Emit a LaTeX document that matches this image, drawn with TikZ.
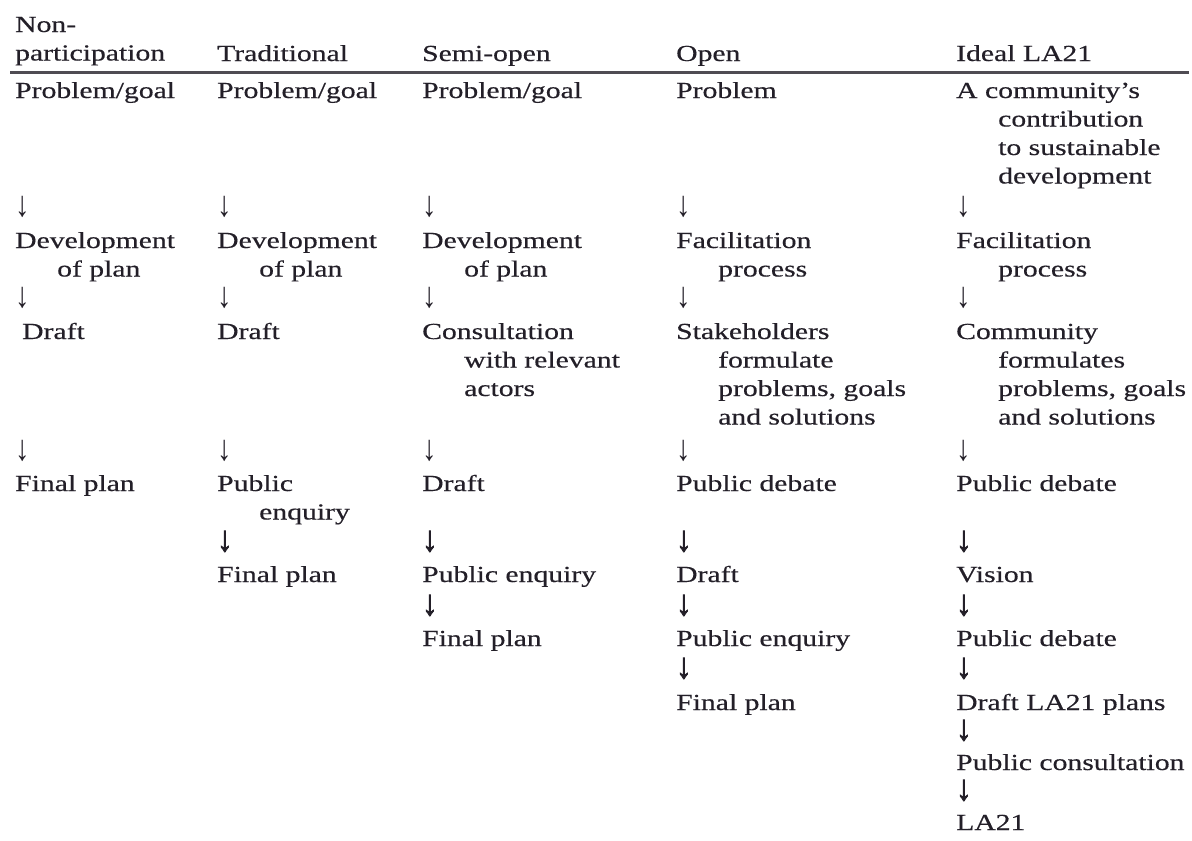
\documentclass[tikz,border=0pt]{standalone}
\usepackage{fontspec}
\setmainfont{Liberation Serif}[FakeStretch=1.29,FakeBold=0.4]
\newfontfamily\arrowfont{Liberation Serif}[FakeStretch=0.8]
\newfontfamily\barrowfont{Liberation Serif}[FakeStretch=0.85,FakeBold=2.2]
\definecolor{ink}{RGB}{35,31,40}
\newcommand{\hang}{\hspace*{42pt}}
\begin{document}
\begin{tikzpicture}[x=1pt,y=-1pt,
  txt/.style={anchor=base west,inner sep=0pt,text=ink,font=\fontsize{23}{28.5}\selectfont},
  arr/.style={anchor=base west,inner sep=0pt,text=ink,font=\arrowfont\fontsize{36}{36}\selectfont},
  barr/.style={arr,font=\barrowfont\fontsize{36}{36}\selectfont}]
\useasboundingbox (0,0) rectangle (1192,841);
\fill[white] (0,0) rectangle (1192,841);
% column x positions
\def\ca{15}\def\cb{217}\def\cc{422}\def\cd{676}\def\ce{956}
% row baselines
\def\ra{98}\def\aa{216}\def\rb{248}\def\ab{307}\def\rc{339}\def\ac{460}
\def\rd{491}\def\ad{551}\def\re{582}\def\ae{615}\def\rf{646}\def\af{678}
\def\rg{710}\def\ag{740}\def\rh{770}\def\ah{800}\def\ri{830}
% header
\node[txt] (h1) at (\ca,32) {\begin{tabular}[t]{@{}l@{}}Non-\\participation\end{tabular}};
\node[txt] (h2) at (\cb,61) {Traditional};
\node[txt] (h3) at (\cc,61) {Semi-open};
\node[txt] (h4) at (\cd,61) {Open};
\node[txt] (h5) at (\ce,61) {Ideal LA21};
\coordinate (rl) at (10,72);
\coordinate (rr) at (1189,72);
\draw[line width=3pt,draw=ink!80] (rl) -- (rr);
% column 1
\node[txt] (a1) at (\ca,\ra) {Problem/goal};
\node[arr] (a1d) at (\ca,\aa) {↓};
\node[txt] (a2) at (\ca,\rb) {\begin{tabular}[t]{@{}l@{}}Development\\\hang of plan\end{tabular}};
\node[arr] (a2d) at (\ca,\ab) {↓};
\node[txt] (a3) at (\ca+7,\rc) {Draft};
\node[arr] (a3d) at (\ca,\ac) {↓};
\node[txt] (a4) at (\ca,\rd) {Final plan};
% column 2
\node[txt] (b1) at (\cb,\ra) {Problem/goal};
\node[arr] (b1d) at (\cb,\aa) {↓};
\node[txt] (b2) at (\cb,\rb) {\begin{tabular}[t]{@{}l@{}}Development\\\hang of plan\end{tabular}};
\node[arr] (b2d) at (\cb,\ab) {↓};
\node[txt] (b3) at (\cb,\rc) {Draft};
\node[arr] (b3d) at (\cb,\ac) {↓};
\node[txt] (b4) at (\cb,\rd) {\begin{tabular}[t]{@{}l@{}}Public\\\hang enquiry\end{tabular}};
\node[barr] (b4d) at (\cb,\ad) {↓};
\node[txt] (b5) at (\cb,\re) {Final plan};
% column 3
\node[txt] (c1) at (\cc,\ra) {Problem/goal};
\node[arr] (c1d) at (\cc,\aa) {↓};
\node[txt] (c2) at (\cc,\rb) {\begin{tabular}[t]{@{}l@{}}Development\\\hang of plan\end{tabular}};
\node[arr] (c2d) at (\cc,\ab) {↓};
\node[txt] (c3) at (\cc,\rc) {\begin{tabular}[t]{@{}l@{}}Consultation\\\hang with relevant\\\hang actors\end{tabular}};
\node[arr] (c3d) at (\cc,\ac) {↓};
\node[txt] (c4) at (\cc,\rd) {Draft};
\node[barr] (c4d) at (\cc,\ad) {↓};
\node[txt] (c5) at (\cc,\re) {Public enquiry};
\node[barr] (c5d) at (\cc,\ae) {↓};
\node[txt] (c6) at (\cc,\rf) {Final plan};
% column 4
\node[txt] (d1) at (\cd,\ra) {Problem};
\node[arr] (d1d) at (\cd,\aa) {↓};
\node[txt] (d2) at (\cd,\rb) {\begin{tabular}[t]{@{}l@{}}Facilitation\\\hang process\end{tabular}};
\node[arr] (d2d) at (\cd,\ab) {↓};
\node[txt] (d3) at (\cd,\rc) {\begin{tabular}[t]{@{}l@{}}Stakeholders\\\hang formulate\\\hang problems, goals\\\hang and solutions\end{tabular}};
\node[arr] (d3d) at (\cd,\ac) {↓};
\node[txt] (d4) at (\cd,\rd) {Public debate};
\node[barr] (d4d) at (\cd,\ad) {↓};
\node[txt] (d5) at (\cd,\re) {Draft};
\node[barr] (d5d) at (\cd,\ae) {↓};
\node[txt] (d6) at (\cd,\rf) {Public enquiry};
\node[barr] (d6d) at (\cd,\af) {↓};
\node[txt] (d7) at (\cd,\rg) {Final plan};
% column 5
\node[txt] (e1) at (\ce,\ra) {\begin{tabular}[t]{@{}l@{}}A community's\\\hang contribution\\\hang to sustainable\\\hang development\end{tabular}};
\node[arr] (e1d) at (\ce,\aa) {↓};
\node[txt] (e2) at (\ce,\rb) {\begin{tabular}[t]{@{}l@{}}Facilitation\\\hang process\end{tabular}};
\node[arr] (e2d) at (\ce,\ab) {↓};
\node[txt] (e3) at (\ce,\rc) {\begin{tabular}[t]{@{}l@{}}Community\\\hang formulates\\\hang problems, goals\\\hang and solutions\end{tabular}};
\node[arr] (e3d) at (\ce,\ac) {↓};
\node[txt] (e4) at (\ce,\rd) {Public debate};
\node[barr] (e4d) at (\ce,\ad) {↓};
\node[txt] (e5) at (\ce,\re) {Vision};
\node[barr] (e5d) at (\ce,\ae) {↓};
\node[txt] (e6) at (\ce,\rf) {Public debate};
\node[barr] (e6d) at (\ce,\af) {↓};
\node[txt] (e7) at (\ce,\rg) {Draft LA21 plans};
\node[barr] (e7d) at (\ce,\ag) {↓};
\node[txt] (e8) at (\ce,\rh) {Public consultation};
\node[barr] (e8d) at (\ce,\ah) {↓};
\node[txt] (e9) at (\ce,\ri) {LA21};
\end{tikzpicture}
\end{document}
